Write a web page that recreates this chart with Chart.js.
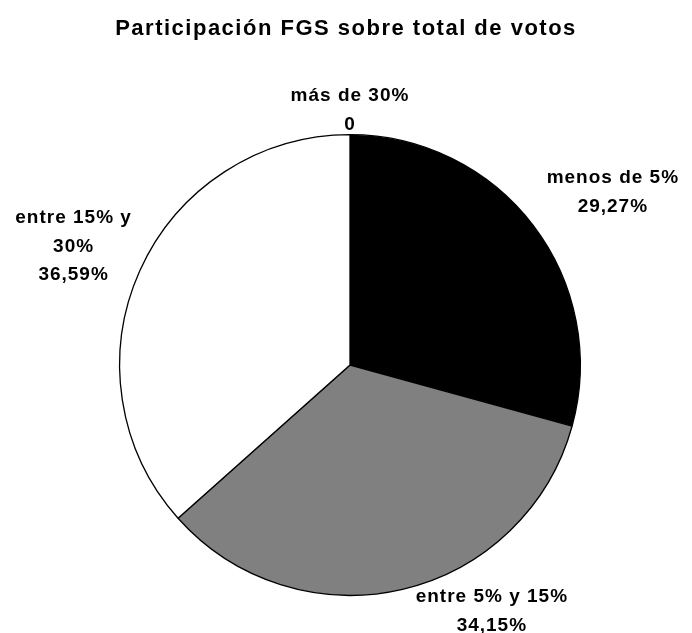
<!DOCTYPE html>
<html>
<head>
<meta charset="utf-8">
<script src="https://cdn.jsdelivr.net/npm/chart.js@4/dist/chart.umd.min.js"></script>
<style>
  html, body { margin: 0; padding: 0; background: #fff; }
  #container { width: 692px; height: 633px; }
</style>
</head>
<body>
<div id="container"><canvas id="chart" width="692" height="633"></canvas></div>
<script>
// datos del gráfico
const title = "Participación FGS sobre total de votos";
const categories = ["menos de 5%", "entre 5% y 15%", "entre 15% y 30%", "más de 30%"];
const values = [29.27, 34.15, 36.59, 0];
const sliceColors = ["#000000", "#808080", "#ffffff", "#ffffff"];

// estilo de las etiquetas (ancho máximo de línea y ajuste fino)
const labelWrap = [999, 999, 130, 999];
const labelNudge = [[27, -16], [72, -6], [-13, -7], [0, 4]];

const formatValue = function(v) {
	if (v === 0) return "0";
	return v.toFixed(2).replace(".", ",") + "%";
};

const wrapText = function(ctx, text, maxWidth) {
	const words = text.split(" ");
	const lines = [];
	let line = "";
	words.forEach(w => {
		const test = line ? line + " " + w : w;
		if (line && ctx.measureText(test).width > maxWidth) {
			lines.push(line);
			line = w;
		} else {
			line = test;
		}
	});
	if (line) lines.push(line);
	return lines;
};

const labelsPlugin = {
	id: "pieLabels",
	afterDraw(chart) {
		const ctx = chart.ctx;
		ctx.save();
		ctx.fillStyle = "#000";
		ctx.textAlign = "center";

		// título
		ctx.font = "bold 22px 'Liberation Sans', Arial, sans-serif";
		ctx.letterSpacing = "1.5px";
		ctx.textBaseline = "alphabetic";
		ctx.fillText(title, chart.width / 2, 35);

		// etiquetas de datos
		ctx.font = "bold 19px 'Liberation Sans', Arial, sans-serif";
		ctx.letterSpacing = "1px";
		ctx.textBaseline = "middle";
		const lineH = 28.5;
		const meta = chart.getDatasetMeta(0);
		meta.data.forEach((arc, i) => {
			const p = arc.getProps(["x", "y", "startAngle", "endAngle", "outerRadius"], true);
			const mid = (p.startAngle + p.endAngle) / 2;
			const lines = wrapText(ctx, categories[i], labelWrap[i]);
			lines.push(formatValue(values[i]));
			let w = 0;
			lines.forEach(l => { w = Math.max(w, ctx.measureText(l).width); });
			const halfW = w / 2;
			const halfH = lines.length * lineH / 2;
			const cx = p.x + Math.cos(mid) * p.outerRadius + halfW * Math.cos(mid) + labelNudge[i][0];
			const cy = p.y + Math.sin(mid) * p.outerRadius + halfH * Math.sin(mid) + labelNudge[i][1];
			lines.forEach((l, k) => {
				ctx.fillText(l, cx, cy - halfH + lineH * (k + 0.5));
			});
		});
		ctx.restore();
	}
};

new Chart(document.getElementById("chart"), {
	type: "pie",
	data: {
		labels: categories,
		datasets: [{
			data: values,
			backgroundColor: sliceColors,
			borderColor: "#000000",
			borderWidth: 1.3
		}]
	},
	options: {
		responsive: false,
		animation: false,
		events: [],
		layout: { padding: { top: 134, bottom: 37, left: 119, right: 111 } },
		plugins: {
			legend: { display: false },
			tooltip: { enabled: false },
			title: { display: false }
		}
	},
	plugins: [labelsPlugin]
});
</script>
</body>
</html>
